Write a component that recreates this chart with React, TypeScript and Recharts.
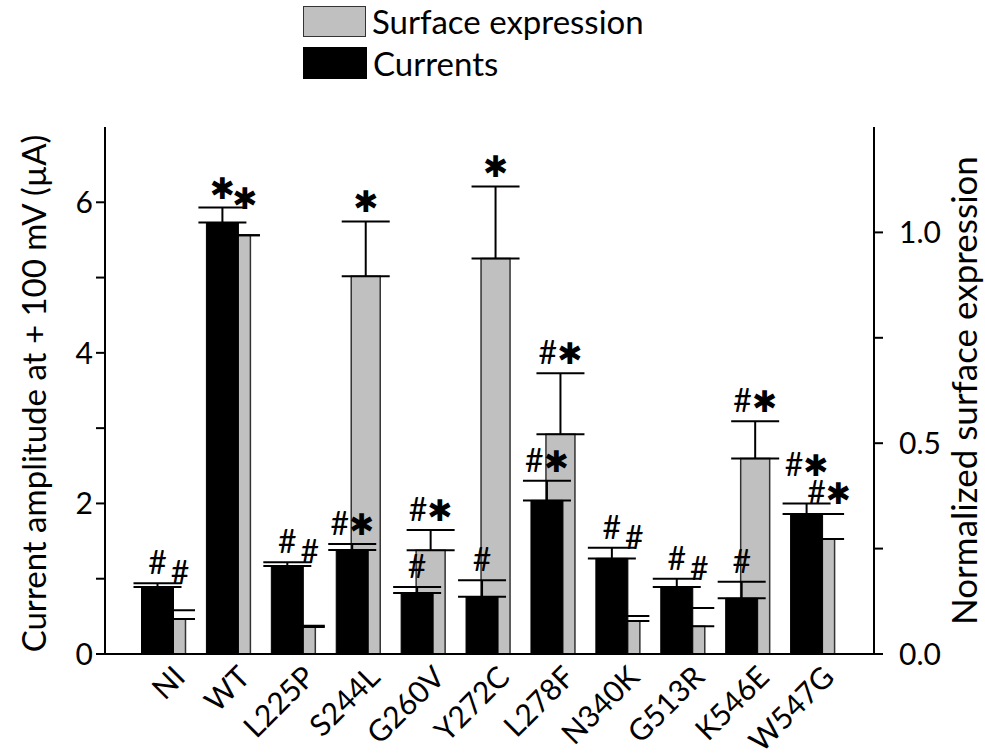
import React from 'react';
import { BarChart, Bar, XAxis, YAxis, ErrorBar, LabelList } from 'recharts';

const categories = ['NI', 'WT', 'L225P', 'S244L', 'G260V', 'Y272C', 'L278F', 'N340K', 'G513R', 'K546E', 'W547G'];
const currents = [0.89, 5.73, 1.17, 1.38, 0.81, 0.76, 2.04, 1.27, 0.89, 0.74, 1.86];
const currentsErr = [0.05, 0.2, 0.05, 0.08, 0.08, 0.22, 0.26, 0.14, 0.11, 0.22, 0.14];
const surface = [0.083, 0.993, 0.064, 0.896, 0.246, 0.938, 0.521, 0.078, 0.066, 0.464, 0.273];
const surfaceErr = [0.021, 0, 0.003, 0.13, 0.048, 0.171, 0.145, 0.012, 0.043, 0.088, 0.059];
const currentsMarks = ['#', '*', '#', '#*', '#', '#', '#*', '#', '#', '#', '#*'];
const surfaceMarks = ['#', '*', '#', '*', '#*', '*', '#*', '#', '#', '#*', '#*'];
const leftTicks = [0, 1, 2, 3, 4, 5, 6];
const leftLabeled = [0, 2, 4, 6];
const rightTicks = [0, 0.25, 0.5, 0.75, 1];
const rightLabeled = [0, 0.5, 1];
const surfaceName = 'Surface expression';
const currentsName = 'Currents';
const leftTitle = 'Current amplitude at + 100 mV (\u00b5A)';
const rightTitle = 'Normalized surface expression';

const LEFT_MAX = 7;
const RIGHT_MAX = 1.25;
const BLACK_W = 32;
const GRAY_W = 29;
const GAP = -17;
const CENTER_SHIFT = BLACK_W + GAP + GRAY_W / 2 - BLACK_W / 2;

const FONT = 'Lato, "Open Sans", sans-serif';

const data = categories.map((name, i) => ({
  name,
  currents: currents[i],
  currentsErr: [0, currentsErr[i]],
  currentsMark: currentsMarks[i],
  surface: surface[i],
  surfaceErr: [0, surfaceErr[i]],
  surfaceMark: surfaceMarks[i],
}));

function anchors(i: number, baseY: number, pxL: number, pxR: number, bcx: number) {
  const gcx = bcx + CENTER_SHIFT;
  const bTop = baseY - (currents[i] + currentsErr[i]) * pxL;
  const gTop = baseY - (surface[i] + surfaceErr[i]) * pxR;
  let gy = gTop;
  let gx = gcx;
  if (gTop > bTop + 10) {
    gy = bTop + 10;
    gx = gcx + 9;
  }
  let by = bTop;
  const bw = currentsMarks[i].length * 18;
  const gw = surfaceMarks[i].length * 18;
  if (Math.abs(gy - by) < 28 && Math.abs(gx - bcx) < (bw + gw) / 2) by = gy - 28;
  return { bx: bcx, by, gx, gy };
}

const MarkText = ({ x, y, value }: { x: number; y: number; value: string }) => (
  <text x={x} y={y - 9} textAnchor="middle" fontFamily={FONT} fontSize={32} fill="#000">
    {value.split('').map((ch, k) =>
      ch === '*' ? (
        <tspan key={k} fontFamily="DejaVu Sans" fontSize={30}>{'\u2731'}</tspan>
      ) : (
        <tspan key={k}>{ch}</tspan>
      )
    )}
  </text>
);

const blackMark = (props: any) => {
  const { x, y, width, height, value, index } = props;
  if (!value) return null;
  const pxL = height / currents[index];
  const pxR = (pxL * LEFT_MAX) / RIGHT_MAX;
  const a = anchors(index, y + height, pxL, pxR, x + width / 2);
  return <MarkText x={a.bx} y={a.by} value={String(value)} />;
};

const grayMark = (props: any) => {
  const { x, y, width, height, value, index } = props;
  if (!value) return null;
  const pxR = height / surface[index];
  const pxL = (pxR * RIGHT_MAX) / LEFT_MAX;
  const a = anchors(index, y + height, pxL, pxR, x + width / 2 - CENTER_SHIFT);
  return <MarkText x={a.gx} y={a.gy} value={String(value)} />;
};

const XTick = (props: any) => {
  const { x, y, payload } = props;
  const ax = x + 23;
  const ay = y + 17;
  return (
    <text x={ax} y={ay} textAnchor="end" fontFamily={FONT} fontSize={30} fill="#000" transform={`rotate(-45, ${ax}, ${ay})`}>
      {payload.value}
    </text>
  );
};

const LeftTitle = (props: any) => {
  const vb = props.viewBox;
  const cx = 33;
  const cy = vb.y + vb.height / 2 + 3;
  return (
    <text x={cx} y={cy} textAnchor="middle" dominantBaseline="central" fontFamily={FONT} fontSize={33} fill="#000" transform={`rotate(-90, ${cx}, ${cy})`}>
      {leftTitle}
    </text>
  );
};

const RightTitle = (props: any) => {
  const vb = props.viewBox;
  const cx = vb.x + 89;
  const cy = vb.y + vb.height / 2;
  return (
    <text x={cx} y={cy} textAnchor="middle" dominantBaseline="central" fontFamily={FONT} fontSize={35} fill="#000" transform={`rotate(-90, ${cx}, ${cy})`}>
      {rightTitle}
    </text>
  );
};

const Legend = () => (
  <div style={{ position: 'absolute', left: 303, top: 5, fontFamily: FONT, fontSize: 33, color: '#000', lineHeight: '33px' }}>
    <div style={{ display: 'flex', alignItems: 'center', height: 32 }}>
      <div style={{ width: 61, height: 29, background: '#c0c0c0', border: '1.5px solid #333' }} />
      <span style={{ marginLeft: 6 }}>{surfaceName}</span>
    </div>
    <div style={{ display: 'flex', alignItems: 'center', height: 32, marginTop: 10 }}>
      <div style={{ width: 64, height: 32, background: '#000' }} />
      <span style={{ marginLeft: 6 }}>{currentsName}</span>
    </div>
  </div>
);

export default function App() {
  const pad = { left: 26.5, right: 28.5 };
  return (
    <div style={{ position: 'absolute', left: 0, top: 0, width: 985, height: 755, background: '#fff' }}>
      <Legend />
      <BarChart
        width={985}
        height={755}
        data={data}
        margin={{ top: 127, right: 0, bottom: 0, left: 0 }}
        barGap={GAP}
        style={{ position: 'absolute', left: 0, top: 0 }}
      >
        <XAxis
          xAxisId="a"
          dataKey="name"
          height={101}
          padding={pad}
          tickLine={false}
          axisLine={{ stroke: '#000', strokeWidth: 2 }}
          tick={<XTick />}
          interval={0}
        />
        <XAxis xAxisId="b" dataKey="name" hide padding={pad} />
        <YAxis
          yAxisId="left"
          orientation="left"
          width={105}
          domain={[0, LEFT_MAX]}
          ticks={leftTicks}
          interval={0}
          allowDataOverflow
          tickSize={9}
          tickMargin={3}
          axisLine={{ stroke: '#000', strokeWidth: 2 }}
          tickLine={{ stroke: '#000', strokeWidth: 2 }}
          tickFormatter={(v: number) => (leftLabeled.includes(v) ? String(v) : '')}
          tick={{ fill: '#000', fontSize: 30, fontFamily: FONT }}
          label={<LeftTitle />}
        />
        <YAxis
          yAxisId="right"
          orientation="right"
          width={111}
          domain={[0, RIGHT_MAX]}
          ticks={rightTicks}
          interval={0}
          allowDataOverflow
          tickSize={9}
          tickMargin={16}
          axisLine={{ stroke: '#000', strokeWidth: 2 }}
          tickLine={{ stroke: '#000', strokeWidth: 2 }}
          tickFormatter={(v: number) => (rightLabeled.includes(v) ? v.toFixed(1) : '')}
          tick={{ fill: '#000', fontSize: 30, fontFamily: FONT }}
          label={<RightTitle />}
        />
        <Bar xAxisId="b" yAxisId="right" dataKey="spacerB" barSize={BLACK_W} fill="none" stroke="none" legendType="none" isAnimationActive={false} />
        <Bar xAxisId="b" yAxisId="right" dataKey="surface" name={surfaceName} barSize={GRAY_W} fill="#c0c0c0" stroke="#333" strokeWidth={1.5} isAnimationActive={false}>
          <ErrorBar dataKey="surfaceErr" width={24} stroke="#000" strokeWidth={2} direction="y" />
          <LabelList dataKey="surfaceMark" content={grayMark} />
        </Bar>
        <Bar xAxisId="a" yAxisId="left" dataKey="currents" name={currentsName} barSize={BLACK_W} fill="#000" stroke="#000" isAnimationActive={false}>
          <ErrorBar dataKey="currentsErr" width={24} stroke="#000" strokeWidth={2} direction="y" />
          <LabelList dataKey="currentsMark" content={blackMark} />
        </Bar>
        <Bar xAxisId="a" yAxisId="left" dataKey="spacerA" barSize={GRAY_W} fill="none" stroke="none" legendType="none" isAnimationActive={false} />
      </BarChart>
    </div>
  );
}
